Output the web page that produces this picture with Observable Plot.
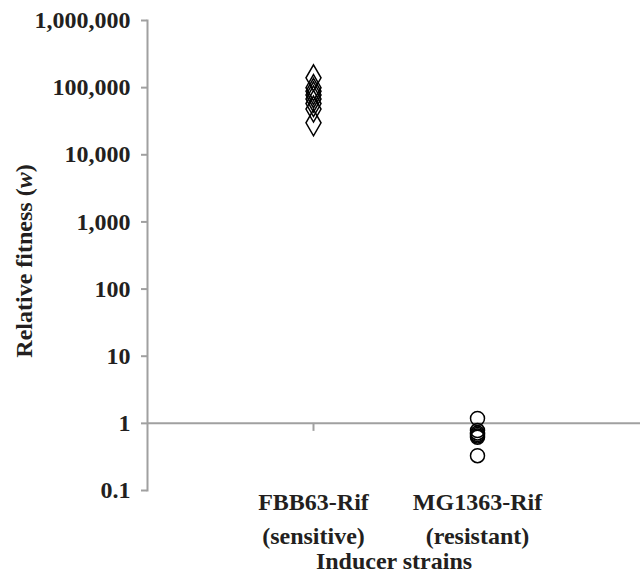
<!DOCTYPE html>
<html><head><meta charset="utf-8">
<script src="https://cdn.jsdelivr.net/npm/d3@7"></script>
<script src="https://cdn.jsdelivr.net/npm/@observablehq/plot@0.6"></script>
<style>
html,body{margin:0;padding:0;background:#fff;}
</style></head><body><div id="chart"></div>
<script>
const categories = ["FBB63-Rif\n(sensitive)", "MG1363-Rif\n(resistant)"];
const sensitiveValues = [140000, 100000, 88000, 78000, 68000, 58000, 48000, 30000];
const resistantValues = [1.18, 0.78, 0.72, 0.68, 0.65, 0.62, 0.33];
const yTicks = [0.1, 1, 10, 100, 1000, 10000, 100000, 1000000];
const xTitle = "Inducer strains";
const yTitleStart = "Relative fitness (";
const yTitleItalic = "w";
const yTitleEnd = ")";

const sensitive = sensitiveValues.map(v => ({strain: categories[0], value: v}));
const resistant = resistantValues.map(v => ({strain: categories[1], value: v}));

const axisGray = "#a0a0a0";
const ink = "#231f20";
const font = "'Liberation Serif', 'Times New Roman', serif";

const chart = Plot.plot({
  width: 640,
  height: 578,
  marginLeft: 147,
  marginRight: 0,
  marginTop: 20,
  marginBottom: 88,
  style: {fontFamily: font, fontSize: "24px", fontWeight: "bold", color: ink, background: "#fff"},
  x: {type: "point", domain: categories, padding: 1, align: 0.505},
  y: {type: "log", domain: [0.1, 1000000]},
  marks: [
    Plot.frame({anchor: "left", stroke: axisGray, strokeWidth: 2}),
    Plot.ruleY([1], {stroke: axisGray, strokeWidth: 2}),
    Plot.ruleX(categories, {x: d => d, y1: () => 1, y2: () => 1, insetBottom: -8, stroke: axisGray, strokeWidth: 2}),
    Plot.axisY({ticks: yTicks, tickSize: 6, tickPadding: 11, strokeWidth: 2, stroke: axisGray, fill: ink, label: null,
      tickFormat: d => d < 1 ? String(d) : d3.format(",")(d)}),
    Plot.axisX({tickSize: 0, tickPadding: 0, dy: -4, lineHeight: 1.4, label: null, fill: ink}),
    Plot.dot(sensitive, {x: "strain", y: "value", symbol: "diamond", r: 7.9, stroke: "#000", strokeWidth: 1.5, fill: "none"}),
    Plot.dot(resistant, {x: "strain", y: "value", symbol: "circle", r: 7, stroke: "#000", strokeWidth: 1.5, fill: "none"})
  ]
});

const svg = d3.select(chart);
svg.append("text")
  .attr("x", 394).attr("y", 569)
  .attr("text-anchor", "middle")
  .attr("fill", ink)
  .style("font-family", font).style("font-size", "24px").style("font-weight", "bold")
  .text(xTitle);
const yt = svg.append("text")
  .attr("transform", "translate(32,261) rotate(-90)")
  .attr("text-anchor", "middle")
  .attr("fill", ink)
  .style("font-family", font).style("font-size", "24px").style("font-weight", "bold");
yt.append("tspan").text(yTitleStart);
yt.append("tspan").style("font-style", "italic").text(yTitleItalic);
yt.append("tspan").text(yTitleEnd);

document.getElementById("chart").appendChild(chart);
</script>
</body></html>
